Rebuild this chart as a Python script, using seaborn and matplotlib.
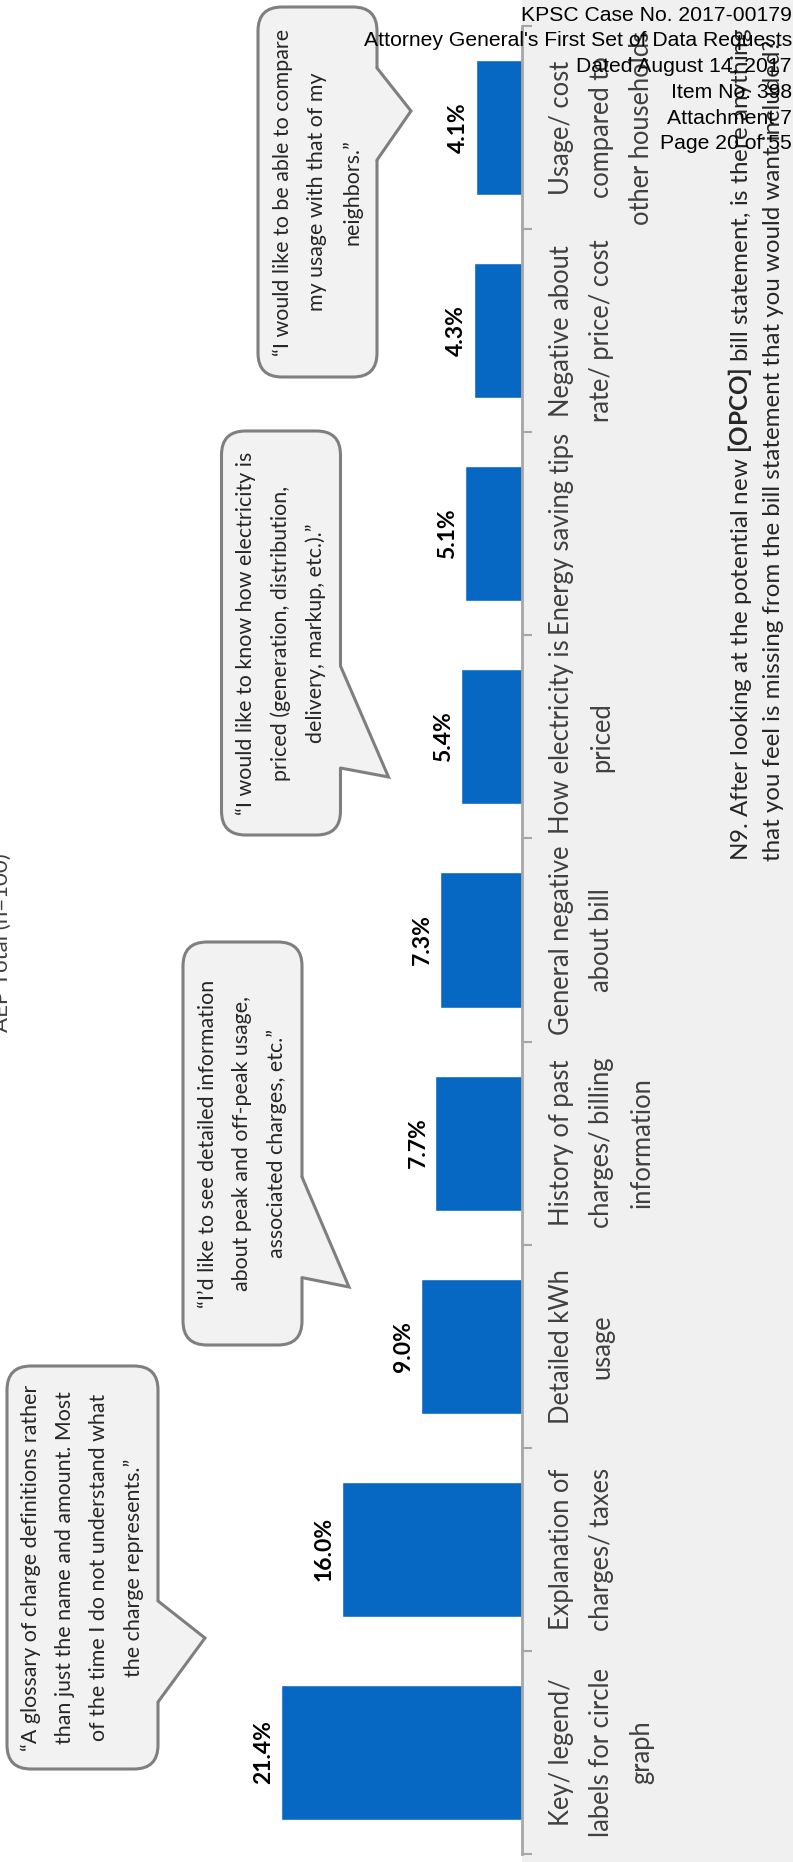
import matplotlib
matplotlib.use("Agg")
import matplotlib.pyplot as plt
import matplotlib.transforms as mtransforms
from matplotlib.patches import FancyBboxPatch, Polygon, Rectangle
from matplotlib.lines import Line2D
import seaborn as sns
import pandas as pd
import numpy as np

# ---------------- data ----------------
categories = [
    "Key/ legend/\nlabels for circle\ngraph",
    "Explanation of\ncharges/ taxes",
    "Detailed kWh\nusage",
    "History of past\ncharges/ billing\ninformation",
    "General negative\nabout bill",
    "How electricity is\npriced",
    "Energy saving tips",
    "Negative about\nrate/ price/ cost",
    "Usage/ cost\ncompared to\nother households",
]
values = [21.4, 16.0, 9.0, 7.7, 7.3, 5.4, 5.1, 4.3, 4.1]
value_labels = ["21.4%", "16.0%", "9.0%", "7.7%", "7.3%", "5.4%", "5.1%", "4.3%", "4.1%"]

quotes = [
    "\u201cI would like to be able to compare\nmy usage with that of my\nneighbors.\u201d",
    "\u201cI would like to know how electricity is\npriced (generation, distribution,\ndelivery, markup, etc.).\u201d",
    "\u201cI\u2019d like to see detailed information\nabout peak and off-peak usage,\nassociated charges, etc.\u201d",
    "\u201cA glossary of charge definitions rather\nthan just the name and amount. Most\nof the time I do not understand what\nthe charge represents.\u201d",
]

title_line1 = r"N9. After looking at the potential new $\mathbf{[OPCO]}$ bill statement, is there anything"
title_line2 = "that you feel is missing from the bill statement that you would want included?"
subtitle = "AEP Total (n=100)"
header_lines = [
    "KPSC Case No. 2017-00179",
    "Attorney General's First Set of Data Requests",
    "Dated August 14, 2017",
    "Item No. 398",
    "Attachment 7",
    "Page 20 of 55",
]

# ---------------- style ----------------
sns.set_style("white")
plt.rcParams["font.family"] = ["Lato", "DejaVu Sans"]
plt.rcParams["mathtext.fontset"] = "custom"
plt.rcParams["mathtext.rm"] = "Lato"
plt.rcParams["mathtext.bf"] = "Lato:bold"
plt.rcParams["mathtext.it"] = "Lato:italic"

BAR = "#0668C2"
GREY_BG = "#f0f0f0"
AXIS = "#a6a6a6"
FILL = "#f2f2f2"
EDGE = "#7f7f7f"

W, H = 793, 1862
fig = plt.figure(figsize=(W / 100, H / 100), dpi=100)
fig.patch.set_facecolor("white")
T = mtransforms.Affine2D().scale(1 / W, -1 / H).translate(0, 1) + fig.transFigure

# grey label panel
fig.add_artist(Rectangle((522, 0), W - 522, H, transform=T, fc=GREY_BG, ec="none", zorder=-5))

ax_top, ax_bot, ax_right = 26, 1854, 522
ax = fig.add_axes([0, 1 - ax_bot / H, ax_right / W, (ax_bot - ax_top) / H])
ax.patch.set_visible(False)

df = pd.DataFrame({"category": categories, "value": values})
order = categories[::-1]
sns.barplot(data=df, x="value", y="category", order=order, orient="h",
            color=BAR, saturation=1, width=0.665, ax=ax)

ax.set_xlim(ax_right / 11.25, 0)
ax.set_ylim(len(order) - 0.5, -0.5)
ax.xaxis.set_visible(False)
for s in ["top", "bottom", "left"]:
    ax.spines[s].set_visible(False)
ax.spines["right"].set_color(AXIS)
ax.spines["right"].set_linewidth(2.0)
ax.yaxis.tick_right()
ax.set_yticks(np.arange(-0.5, len(order), 1.0))
ax.set_yticklabels([])
ax.tick_params(axis="y", direction="out", length=7.5, width=1.5, color=AXIS)
ax.set_ylabel("")
ax.set_xlabel("")

# value labels
lbl_tr = mtransforms.offset_copy(ax.transData, fig=fig, x=-7, y=0, units="dots")
for cat, v, lab in zip(categories, values, value_labels):
    yi = order.index(cat)
    ax.text(v, yi, lab, transform=lbl_tr, rotation=90, ha="right", va="center",
            fontsize=16.5, fontweight="bold", color="black", clip_on=False)

# category labels
for i, cat in enumerate(order):
    ax.text(549 / ax_right, i, cat, transform=ax.get_yaxis_transform(), rotation=90,
            ha="left", va="center", multialignment="center", fontsize=18.4,
            linespacing=1.76, color="#404040", clip_on=False)

# callouts (pixel layout, from top-left)
callouts = [
    ((258, 7, 377, 377), (68, 160), (411, 111)),
    ((221.5, 431, 340.5, 835), (666, 768), (388.5, 777)),
    ((183, 942, 302, 1345), (1177, 1277.6), (349, 1287)),
    ((7, 1366, 158, 1769), (1601, 1702), (205, 1638)),
]
for (box, base, tip), q in zip(callouts, quotes):
    x0, y0, x1, y1 = box
    fig.add_artist(FancyBboxPatch((x0, y0), x1 - x0, y1 - y0,
                                  boxstyle="round,pad=0,rounding_size=24",
                                  transform=T, fc=FILL, ec=EDGE, lw=2.2, zorder=5))
    fig.add_artist(Polygon([(x1 - 4, base[0]), (x1, base[0]), tip, (x1, base[1]), (x1 - 4, base[1])],
                           closed=True, transform=T, fc=FILL, ec="none", zorder=6))
    fig.add_artist(Line2D([x1, tip[0], x1], [base[0], tip[1], base[1]], transform=T,
                          color=EDGE, lw=2.2, zorder=7, solid_joinstyle="miter"))
    fig.text((x0 + x1) / 2, (y0 + y1) / 2, q, transform=T, rotation=90, ha="center",
             va="center", multialignment="center", fontsize=15.4, linespacing=1.88,
             color="#262626", zorder=8)

# title (rotated)
fig.text(748, 861, title_line1, transform=T, rotation=90, rotation_mode="anchor",
         ha="left", va="baseline", fontsize=17.4, color="#262626", zorder=8)
fig.text(780, 861, title_line2, transform=T, rotation=90, rotation_mode="anchor",
         ha="left", va="baseline", fontsize=17.4, color="#262626", zorder=8)

# subtitle, cut at left edge
fig.text(8, 943, subtitle, transform=T, rotation=90, rotation_mode="anchor",
         ha="center", va="baseline", fontsize=16, color="#404040", zorder=8)

# header
for k, line in enumerate(header_lines):
    fig.text(792, 20.7 + 25.7 * k, line, transform=T, ha="right", va="baseline",
             fontsize=15.2, family=["Liberation Sans", "DejaVu Sans"], color="black", zorder=20)

fig.savefig("out.png", dpi=100)
